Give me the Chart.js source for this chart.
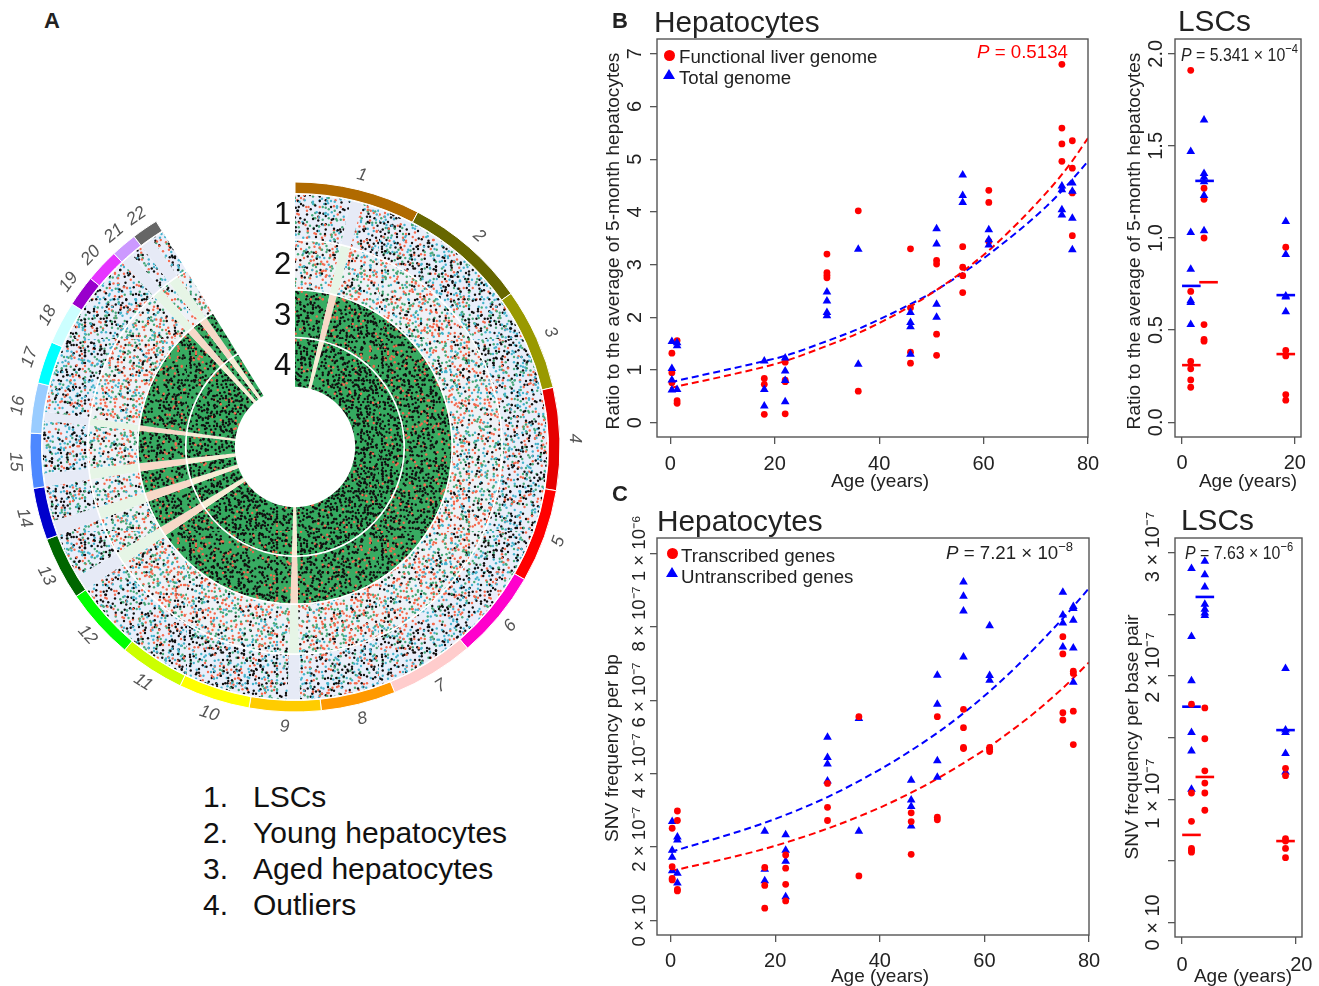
<!DOCTYPE html>
<html>
<head>
<meta charset="utf-8">
<style>
  body { margin: 0; background: #fff; }
  #lienzo { position: relative; width: 1319px; height: 986px; overflow: hidden; font-family: "Liberation Sans", Arial, sans-serif; color: #222; }
  #lienzo canvas { position: absolute; }
  .rotulo { position: absolute; white-space: nowrap; line-height: 1; }
  .rotulo sup { font-size: 0.7em; line-height: 0; }
  .punto { position: absolute; width: 11px; height: 11px; border-radius: 50%; background: #ff0000; }
  .tri { position: absolute; width: 0; height: 0; border-left: 6px solid transparent; border-right: 6px solid transparent; border-bottom: 10px solid #0000ff; }
</style>
</head>
<body>
<div id="lienzo"></div>
<script src="https://cdn.jsdelivr.net/npm/chart.js@4"></script>
<script>
// Panel B, hepatocitos: una fila por edad
const edadesHep = [0.3, 1.3, 18, 22, 30, 36, 46, 51, 56, 61, 75, 77];
const hepBRojo = [
  [1.32, 0.95, 0.76], [1.56, 0.42, 0.37], [0.84, 0.73, 0.16], [1.15, 0.81, 0.78, 0.17],
  [3.2, 2.85, 2.8, 2.75], [4.02, 0.6], [3.3, 2.18, 1.34, 1.13], [3.08, 3.01, 1.68, 1.28],
  [3.34, 2.95, 2.79, 2.47], [4.41, 4.18, 3.44], [6.8, 5.59, 5.29, 4.96], [5.35, 4.83, 4.36, 3.55]
];
const hepBAzul = [
  [1.54, 1.03, 0.81, 0.62], [1.52, 1.46, 0.63], [1.17, 0.63, 0.32], [1.23, 0.98, 0.8, 0.4],
  [2.48, 2.31, 2.09, 2.03], [3.29, 1.11], [2.09, 1.9, 1.82, 1.3], [3.68, 3.39, 2.25, 2.0],
  [4.7, 4.31, 4.18], [3.66, 3.47, 3.37], [4.49, 4.42, 4.04, 3.94], [4.55, 4.39, 3.88, 3.28]
];
const curvaBEdadRojo = [0, 18, 22, 30, 36, 46, 51, 56, 61.8, 72, 76.5, 80];
const curvaBRojo = [0.66, 1.06, 1.17, 1.46, 1.7, 2.21, 2.52, 2.87, 3.34, 4.36, 4.9, 5.4];
const curvaBEdadAzul = [0, 18, 22, 30, 36, 46, 51, 56, 62, 72, 76.5, 80];
const curvaBAzul = [0.77, 1.17, 1.27, 1.55, 1.78, 2.25, 2.52, 2.84, 3.27, 4.1, 4.56, 4.96];

// Panel C, hepatocitos (unidades de 1e-7)
const hepCRojo = [
  [2.51, 1.46, 1.14, 1.1], [2.98, 2.72, 0.84, 0.8], [1.44, 0.95, 0.33], [1.78, 1.42, 0.98, 0.53],
  [3.73, 3.08, 2.72], [5.55, 1.21], [2.93, 2.69, 1.8], [5.55, 2.81, 2.74],
  [5.75, 5.25, 4.71, 4.68], [4.71, 4.66, 4.6], [7.73, 7.26, 5.66, 5.46], [6.79, 6.73, 5.7, 4.79]
];
const hepCAzul = [
  [2.69, 1.91, 1.72, 1.35], [2.27, 2.19, 1.28, 1.02], [2.43, 1.39, 1.08], [2.33, 1.91, 1.61, 0.64],
  [4.99, 4.44, 4.26, 3.8], [5.5, 2.43], [3.82, 3.28, 3.1, 2.57], [6.68, 5.89, 4.35, 3.9],
  [9.22, 8.83, 8.43, 7.18], [8.03, 6.67, 6.54], [8.94, 8.32, 8.1, 7.45], [8.55, 8.5, 8.18, 7.42, 6.49]
];
const curvaCEdadAzul = [0, 18, 30, 40, 46, 51.6, 55.6, 61, 66, 75, 80];
const curvaCAzul = [1.86, 2.66, 3.36, 4.11, 4.63, 5.17, 5.6, 6.24, 6.9, 8.23, 9.05];
const curvaCEdadRojo = [0, 18, 30, 40, 46, 51, 61, 62.3, 69, 75, 80];
const curvaCRojo = [1.34, 1.95, 2.5, 3.07, 3.48, 3.86, 4.74, 4.87, 5.59, 6.33, 7.03];

// LSC, panel B
const edadesLscB = [1.54, 3.9, 18.4];
const lscBRojo = [[1.91, 0.71, 0.33, 0.29, 0.23, 0.19], [1.27, 1.21, 1.0, 0.53, 0.45, 0.44], [0.95, 0.39, 0.36, 0.15, 0.12]];
const lscBAzul = [[1.47, 1.03, 0.83, 0.66, 0.65, 0.53], [1.64, 1.35, 1.33, 1.305, 1.23, 1.04], [1.09, 0.91, 0.685, 0.68, 0.6]];
const medianaBEdadRojo = [1.65, 4.7, 18.4];
const medianaBRojo = [0.31, 0.76, 0.37];
const medianaBEdadAzul = [1.65, 4, 18.4];
const medianaBAzul = [0.74, 1.31, 0.69];

// LSC, panel C (unidades de 1e-7)
const edadesLscC = [1.65, 4, 18.2];
const lscCRojo = [[1.77, 1.05, 0.82, 0.6, 0.585, 0.57], [1.74, 1.49, 1.23, 1.13, 1.05, 0.91], [1.25, 1.19, 0.68, 0.66, 0.6, 0.525]];
const lscCAzul = [[2.87, 2.32, 1.96, 1.54, 1.39, 1.08], [2.93, 2.82, 2.72, 2.58, 2.54, 2.51, 2.49], [2.06, 1.56, 1.54, 1.37, 1.22]];
const medianaCRojo = [0.71, 1.18, 0.66];
const medianaCAzul = [1.75, 2.64, 1.56];

// Etiquetas de los ejes (los espacios delante suben el texto, como en el original)
const ticksCHep = { 0: '0 × 10', 2: '   2 × 10⁻⁷', 4: '   4 × 10⁻⁷', 6: '  6 × 10⁻⁷', 8: '   8 × 10⁻⁷', 10: '  1 × 10⁻⁶' };
const ticksCLsc = { 0: '0 × 10', 1: '  1 × 10⁻⁷', 2: '   2 × 10⁻⁷', 3: '  3 × 10⁻⁷' };

const cromosomas = ['1','2','3','4','5','6','7','8','9','10','11','12','13','14','15','16','17','18','19','20','21','22'];
const arcoCromosoma = [27.6, 27, 22.4, 22.5, 20.5, 19.4, 18.5, 16.4, 15.7, 15.7, 14.3, 15.7, 13.9, 11.4, 12, 11, 9.3, 9.4, 6.8, 7.4, 5.7, 5.8];
const hueco = 31.6;
const colorCromosoma = ['#b06a00','#666600','#999900','#e60000','#ff0000','#ff00cc','#ffcccc','#ff9900','#ffcc00','#ffff00','#ccff00','#00ff00','#006600','#0000cc','#4d88ff','#99ccff','#00ffff','#ccffff','#9900cc','#e633ff','#cc99ff','#666666'];
// tramos de las pistas: con datos / banda vacia, alternados
const tramosPista = [12.8, 2.7, 163.4, 2.8, 54, 3.5, 10.4, 3.4, 8, 3, 12, 2, 38.9, 2.8, 2.9, 2.9, 2.9];

function puntos(edades, filas) {
  return filas.flatMap((fila, i) => fila.map(v => ({ x: edades[i], y: v })));
}
function pares(xs, ys) {
  return xs.map((x, i) => ({ x: x, y: ys[i] }));
}

const lienzo = document.getElementById('lienzo');

function rotulo(html, x, y, size, extra) {
  const d = document.createElement('div');
  d.className = 'rotulo';
  d.innerHTML = html;
  d.style.left = x + 'px';
  d.style.top = y + 'px';
  d.style.fontSize = size + 'px';
  d.style.transform = 'translate(0,-50%)';
  Object.assign(d.style, extra || {});
  lienzo.appendChild(d);
}
function centrado(html, x, y, size, extra) {
  rotulo(html, x, y, size, Object.assign({ transform: 'translate(-50%,-50%)' }, extra || {}));
}
function vertical(html, x, y, size) {
  rotulo(html, x, y, size, { transform: 'translate(-50%,-50%) rotate(-90deg)' });
}

const marco = {
  id: 'marco',
  afterDatasetsDraw(chart) {
    const a = chart.chartArea;
    const ctx = chart.ctx;
    ctx.save();
    ctx.strokeStyle = '#555';
    ctx.lineWidth = 1.4;
    ctx.strokeRect(a.left, a.top, a.right - a.left, a.bottom - a.top);
    ctx.restore();
  }
};

function dsPuntos(datos, color, forma, radio) {
  return { data: datos, showLine: false, pointStyle: forma, pointRadius: radio, pointBackgroundColor: color, pointBorderWidth: 0 };
}
function dsCurva(datos, color) {
  return { data: datos, showLine: true, borderColor: color, borderWidth: 2, borderDash: [7, 4], pointRadius: 0, cubicInterpolationMode: 'monotone' };
}
function dsMediana(datos, color) {
  return { data: datos, showLine: false, pointStyle: 'line', pointRadius: 9.3, pointBorderColor: color, pointBorderWidth: 2.6 };
}

function crearPanel(c) {
  const margenIzq = 70, margenDer = 22, margenSup = 48, margenInf = 38;
  const canvas = document.createElement('canvas');
  const ancho = c.caja[2] - c.caja[0] + margenIzq + margenDer;
  const alto = c.caja[3] - c.caja[1] + margenSup + margenInf;
  canvas.width = ancho;
  canvas.height = alto;
  canvas.style.left = (c.caja[0] - margenIzq) + 'px';
  canvas.style.top = (c.caja[1] - margenSup) + 'px';
  canvas.style.width = ancho + 'px';
  canvas.style.height = alto + 'px';
  lienzo.appendChild(canvas);

  const familia = '"Liberation Sans", Arial, sans-serif';
  new Chart(canvas.getContext('2d'), {
    type: 'scatter',
    data: { datasets: c.series },
    plugins: [marco],
    options: {
      responsive: false,
      animation: false,
      events: [],
      layout: { padding: { top: margenSup, right: margenDer, left: 0, bottom: 0 } },
      plugins: { legend: { display: false }, tooltip: { enabled: false } },
      scales: {
        x: {
          type: 'linear',
          min: c.x[0], max: c.x[1],
          border: { display: false },
          grid: { drawOnChartArea: false, color: '#555', lineWidth: 1.3, tickLength: 7 },
          ticks: { stepSize: 20, includeBounds: false, maxRotation: 0, autoSkip: false, font: { family: familia, size: 20 }, color: '#222', padding: c.paddingX, callback: c.etiquetaX || (v => String(v)) },
          afterFit(s) { s.height = margenInf; s.paddingLeft = s.paddingRight = s.paddingTop = s.paddingBottom = 0; }
        },
        y: {
          type: 'linear',
          min: c.y[0], max: c.y[1],
          border: { display: false },
          grid: { drawOnChartArea: false, color: '#555', lineWidth: 1.3, tickLength: 7 },
          ticks: { stepSize: c.paso, includeBounds: false, minRotation: 90, maxRotation: 90, autoSkip: false, crossAlign: 'center', font: { family: familia, size: c.tamanoY || 20 }, color: '#222', padding: c.paddingY, callback: c.etiqueta },
          afterFit(s) { s.width = margenIzq; s.paddingLeft = s.paddingRight = s.paddingTop = s.paddingBottom = 0; }
        }
      }
    }
  });
}

crearPanel({
  caja: [657, 39, 1088, 437], x: [-2.55, 80], y: [-0.27, 7.28], paso: 1, paddingX: 8, paddingY: 8.5,
  etiqueta: v => String(v),
  series: [
    dsPuntos(puntos(edadesHep, hepBAzul), '#0000ff', 'triangle', 5),
    dsPuntos(puntos(edadesHep, hepBRojo), '#ff0000', 'circle', 3.4),
    dsCurva(pares(curvaBEdadRojo, curvaBRojo), '#ff0000'),
    dsCurva(pares(curvaBEdadAzul, curvaBAzul), '#0000ff')
  ]
});
crearPanel({
  caja: [1175, 39, 1301, 437], x: [-1.25, 21.1], y: [-0.08, 2.08], paso: 0.5, paddingX: 7, paddingY: -2,
  etiqueta: v => v.toFixed(1),
  series: [
    dsPuntos(puntos(edadesLscB, lscBAzul), '#0000ff', 'triangle', 5),
    dsPuntos(puntos(edadesLscB, lscBRojo), '#ff0000', 'circle', 3.4),
    dsMediana(pares(medianaBEdadRojo, medianaBRojo), '#ff0000'),
    dsMediana(pares(medianaBEdadAzul, medianaBAzul), '#0000ff')
  ]
});
crearPanel({
  caja: [657, 538, 1089, 935], x: [-2.6, 80], y: [-0.4, 10.42], paso: 2, paddingX: 7, paddingY: -30, tamanoY: 18.6,
  etiqueta: v => ticksCHep[Math.round(v)],
  series: [
    dsPuntos(puntos(edadesHep, hepCRojo), '#ff0000', 'circle', 3.4),
    dsPuntos(puntos(edadesHep, hepCAzul), '#0000ff', 'triangle', 5),
    dsCurva(pares(curvaCEdadRojo, curvaCRojo), '#ff0000'),
    dsCurva(pares(curvaCEdadAzul, curvaCAzul), '#0000ff')
  ]
});
crearPanel({
  caja: [1175, 538, 1302, 937], x: [-1.25, 21.1], y: [-0.118, 3.118], paso: 0.5, paddingX: 9, paddingY: -29, tamanoY: 20,
  etiqueta: v => ticksCLsc[v] || '',
  etiquetaX: v => v === 20 ? '  20' : String(v),
  series: [
    dsPuntos(puntos(edadesLscC, lscCRojo), '#ff0000', 'circle', 3.4),
    dsPuntos(puntos(edadesLscC, lscCAzul), '#0000ff', 'triangle', 5),
    dsMediana(pares(edadesLscC, medianaCRojo), '#ff0000'),
    dsMediana(pares(edadesLscC, medianaCAzul), '#0000ff')
  ]
});

// Textura de las pistas: las nubes de miles de puntos no se pueden leer una a una,
// asi que van como relleno repetido del arco, no como datos.
const saltos = [3, 1, 4, 0, 2, 5, 1, 3, 0, 4, 2, 1, 5, 3, 0, 2, 4, 1, 3, 5, 0, 2, 1, 4, 3, 0, 5, 2, 4, 1, 0, 3, 2, 5, 1, 4, 0];
function trama(fondo, tintas) {
  const paso = 3, celdas = 64;
  const t = document.createElement('canvas');
  t.width = t.height = paso * celdas;
  const g = t.getContext('2d');
  g.fillStyle = fondo;
  g.fillRect(0, 0, t.width, t.height);
  g.filter = 'blur(0.3px)';
  for (let i = 0; i < celdas; i++) {
    for (let j = 0; j < celdas; j++) {
      const a = saltos[(i * i * 3 + j * 7 + i * j) % saltos.length];
      const b = saltos[(j * j * 5 + i * 11 + i * j * 2) % saltos.length];
      const tinta = tintas[(i * i + j * j * 3 + a * 5 + b * 2 + i * j) % tintas.length];
      if (!tinta) continue;
      g.fillStyle = tinta;
      g.beginPath();
      g.arc(i * paso + a * 0.75, j * paso + b * 0.75, 1.2, 0, Math.PI * 2);
      g.fill();
    }
  }
  return g.createPattern(t, 'repeat');
}

const n = '#101010', o = '#f5694d', c1 = '#45b3cc', v = '#45a878';
const pistas = [
  { fondo: '#e9eefa', vacio: '#e6eaf6', tintas: [n, c1, v, null, n, o, c1, null, v, n, null, c1, o, null, null, n] },
  { fondo: '#eef1f6', vacio: '#e6f5e6', tintas: [o, v, n, null, c1, o, v, null, o, n, null, c1, o, null, v, null] },
  { fondo: '#38ab62', vacio: '#f7d9c8', tintas: [n, null, n, o, null, n, n, null, n, n, o, null, n, null, n, n] },
  { fondo: '#35aa60', vacio: '#f7ecd5', tintas: [n, n, null, n, n, n, o, n, null, n, n, null, n, n, null, n] }
];
function colorPista(p) {
  const motivo = trama(p.fondo, p.tintas);
  return tramosPista.map((_, i) => i % 2 === 0 ? motivo : p.vacio).concat('rgba(0,0,0,0)');
}
function dsPista(p, peso) {
  return { data: tramosPista.concat(hueco), backgroundColor: colorPista(p), borderWidth: 0, weight: peso };
}
function dsEspacio(peso) {
  return { data: [1], backgroundColor: ['#ffffff'], borderWidth: 0, weight: peso };
}

const nombresCromosoma = {
  id: 'nombresCromosoma',
  afterDraw(chart) {
    const ctx = chart.ctx;
    const arcos = chart.getDatasetMeta(0).data;
    ctx.save();
    ctx.font = 'italic 17.5px "Liberation Sans", Arial, sans-serif';
    ctx.fillStyle = '#555';
    ctx.textAlign = 'center';
    ctx.textBaseline = 'middle';
    cromosomas.forEach((nombre, i) => {
      const a = arcos[i];
      const medio = (a.startAngle + a.endAngle) / 2;
      const r = a.outerRadius + 15;
      const desdeArriba = medio + Math.PI / 2;
      ctx.save();
      ctx.translate(a.x + Math.cos(medio) * r, a.y + Math.sin(medio) * r);
      ctx.rotate(desdeArriba > Math.PI / 2 && desdeArriba < Math.PI * 1.5 ? desdeArriba - Math.PI : desdeArriba);
      ctx.fillText(nombre, 0, 0);
      ctx.restore();
    });
    ctx.restore();
  }
};

const canvasA = document.createElement('canvas');
canvasA.width = canvasA.height = 600;
canvasA.style.left = '-5px';
canvasA.style.top = '147px';
canvasA.style.width = canvasA.style.height = '600px';
lienzo.appendChild(canvasA);
new Chart(canvasA.getContext('2d'), {
  type: 'doughnut',
  data: {
    labels: cromosomas.concat(''),
    datasets: [
      { data: arcoCromosoma.concat(hueco), backgroundColor: colorCromosoma.concat('rgba(0,0,0,0)'), borderColor: colorCromosoma.map(() => '#ffffff').concat('rgba(0,0,0,0)'), borderWidth: 1, weight: 11.5 },
      dsEspacio(1),
      dsPista(pistas[0], 44.5),
      dsEspacio(1.5),
      dsPista(pistas[1], 48.5),
      dsEspacio(1.5),
      dsPista(pistas[2], 46.5),
      dsEspacio(1.5),
      dsPista(pistas[3], 48.5)
    ]
  },
  plugins: [nombresCromosoma],
  options: {
    responsive: false,
    animation: false,
    events: [],
    radius: 265,
    cutout: 68,
    plugins: { legend: { display: false }, tooltip: { enabled: false } }
  }
});

// Textos
rotulo('<b>A</b>', 44, 21, 22);
rotulo('<b>B</b>', 612, 21, 22);
rotulo('<b>C</b>', 612, 494, 22);
rotulo('Hepatocytes', 654, 22, 29.8);
rotulo('LSCs', 1178, 21, 29.8);
rotulo('Hepatocytes', 657, 521, 29.8);
rotulo('LSCs', 1181, 520, 29.8);

['1', '2', '3', '4'].forEach((t, i) => rotulo(t, 274, 213 + i * 50.3, 31, { color: '#111' }));
['LSCs', 'Young hepatocytes', 'Aged hepatocytes', 'Outliers'].forEach((t, i) => {
  rotulo((i + 1) + '.', 203, 797 + i * 36, 30, { color: '#111' });
  rotulo(t, 253, 797 + i * 36, 30, { color: '#111' });
});

vertical('Ratio to the average of 5-month hepatocytes', 613, 241, 19.1);
vertical('Ratio to the average of 5-month hepatocytes', 1134, 241, 19.1);
vertical('SNV frequency per bp', 612, 748, 19.1);
vertical('SNV frequency per base pair', 1132, 737, 19.1);
centrado('Age (years)', 880, 480, 19);
centrado('Age (years)', 1248, 480, 19);
centrado('Age (years)', 880, 975, 19);
centrado('Age (years)', 1243, 975, 19);

rotulo('<i>P</i> = 0.5134', 977, 52, 18.7, { color: '#ff0000' });
rotulo('<i>P</i> = 5.341 × 10<sup>−4</sup>', 1181, 55, 18.7, { transform: 'translate(0,-50%) scaleX(0.85)', transformOrigin: 'left center' });
rotulo('<i>P</i> = 7.21 × 10<sup>−8</sup>', 946, 553, 18.7);
rotulo('<i>P</i> = 7.63 × 10<sup>−6</sup>', 1185, 553, 18.7, { transform: 'translate(0,-50%) scaleX(0.85)', transformOrigin: 'left center' });

// Leyendas
function marca(clase, x, y) {
  const d = document.createElement('div');
  d.className = clase;
  d.style.left = x + 'px';
  d.style.top = y + 'px';
  lienzo.appendChild(d);
}
marca('punto', 664, 50);
marca('tri', 663, 69);
rotulo('Functional liver genome', 679, 57, 18.7);
rotulo('Total genome', 679, 78, 18.7);
marca('punto', 667, 548);
marca('tri', 666, 567);
rotulo('Transcribed genes', 681, 556, 18.7);
rotulo('Untranscribed genes', 681, 577, 18.7);
</script>
</body>
</html>
